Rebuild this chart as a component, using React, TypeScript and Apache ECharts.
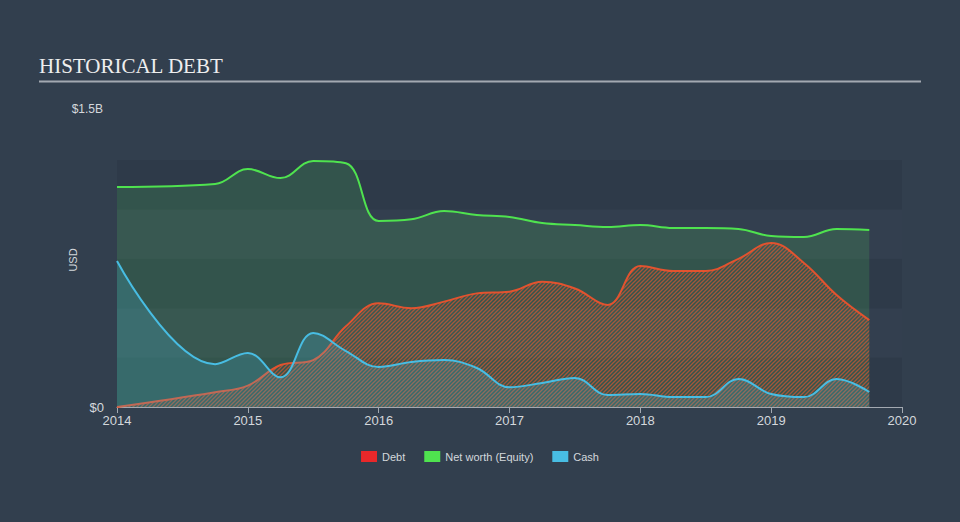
import React, { useEffect, useRef } from "react";
import * as echarts from "echarts";

const quarters = [
  2014, 2014.75, 2015, 2015.25, 2015.5, 2015.75,
  2016, 2016.25, 2016.5, 2016.75, 2017, 2017.25, 2017.5, 2017.75,
  2018, 2018.25, 2018.5, 2018.75, 2019, 2019.25, 2019.5, 2019.75,
];
const debt = [
  0, 0.09, 0.13, 0.255, 0.285, 0.49,
  0.63, 0.6, 0.64, 0.69, 0.7, 0.76, 0.72, 0.62,
  0.857, 0.826, 0.826, 0.9, 0.996, 0.875, 0.68, 0.528,
];
const netWorth = [
  1.336, 1.354, 1.445, 1.39, 1.494, 1.48,
  1.13, 1.14, 1.19, 1.166, 1.154, 1.117, 1.105, 1.093,
  1.105, 1.087, 1.087, 1.081, 1.038, 1.032, 1.081, 1.075,
];
const cash = [
  0.887, 0.26, 0.328, 0.18, 0.45, 0.34,
  0.243, 0.273, 0.285, 0.237, 0.12, 0.146, 0.176, 0.073,
  0.079, 0.06, 0.06, 0.17, 0.079, 0.06, 0.17, 0.091,
];
const xTicks = ["2014", "2015", "2016", "2017", "2018", "2019", "2020"];
const yTopLabel = "$1.5B";
const yBottomLabel = "$0";

const pair = (vals: number[]) => quarters.map((q, i) => [q, vals[i]]);

function makeHatch() {
  const c = document.createElement("canvas");
  const s = 4;
  c.width = s;
  c.height = s;
  const ctx = c.getContext("2d")!;
  ctx.strokeStyle = "rgba(228,88,48,0.9)";
  ctx.lineWidth = 1.3;
  ctx.beginPath();
  ctx.moveTo(0, s);
  ctx.lineTo(s, 0);
  ctx.moveTo(-1, 1);
  ctx.lineTo(1, -1);
  ctx.moveTo(s - 1, s + 1);
  ctx.lineTo(s + 1, s - 1);
  ctx.stroke();
  return c;
}

export default function App() {
  const ref = useRef<HTMLDivElement>(null);
  useEffect(() => {
    document.body.style.margin = "0";
    const chart = echarts.init(ref.current!, undefined, { renderer: "svg" });
    const hatch = makeHatch();
    const sans = "Liberation Sans, Arial, sans-serif";
    const smooth = 0.4;
    chart.setOption({
      animation: false,
      backgroundColor: "#323f4e",
      title: {
        text: "HISTORICAL DEBT",
        left: 39,
        top: 55,
        padding: 0,
        textStyle: {
          fontFamily: "Liberation Serif, Times New Roman, serif",
          fontWeight: "normal",
          fontSize: 21,
          color: "#eeeeee",
        },
      },
      graphic: [
        {
          type: "line",
          shape: { x1: 39, y1: 81.5, x2: 921, y2: 81.5 },
          style: { stroke: "#a3a9b1", lineWidth: 2 },
        },
        {
          type: "text",
          x: 103,
          y: 109,
          style: {
            text: yTopLabel,
            fill: "#d4d8dc",
            font: `12px ${sans}`,
            textAlign: "right",
            textVerticalAlign: "middle",
          },
        },
        {
          type: "text",
          x: 73,
          y: 260,
          rotation: Math.PI / 2,
          style: {
            text: "USD",
            fill: "#d4d8dc",
            font: `11px ${sans}`,
            textAlign: "center",
            textVerticalAlign: "middle",
          },
        },
      ],
      legend: {
        bottom: 55,
        left: "center",
        icon: "rect",
        itemWidth: 16,
        itemHeight: 11,
        itemGap: 19,
        data: ["Debt", "Net worth (Equity)", "Cash"],
        textStyle: { color: "#d4d8dc", fontSize: 11, fontFamily: sans },
      },
      grid: { left: 117, right: 58, top: 160, bottom: 115 },
      xAxis: {
        type: "value",
        min: 2014,
        max: 2020,
        interval: 1,
        axisLine: { lineStyle: { color: "#a3a9b1", width: 1 } },
        axisTick: { show: true, length: 6, lineStyle: { color: "#a3a9b1" } },
        splitLine: { show: false },
        axisLabel: {
          color: "#d4d8dc",
          fontSize: 13,
          fontFamily: sans,
          margin: 7,
          formatter: (v: number) => xTicks[Math.round(v - 2014)] ?? "",
        },
      },
      yAxis: {
        type: "value",
        min: 0,
        max: 1.5,
        interval: 0.3,
        axisLine: { show: false },
        axisTick: { show: false },
        splitLine: { show: false },
        splitArea: { show: true, areaStyle: { color: ["#2e3a49", "#333f4f"] } },
        axisLabel: {
          color: "#d4d8dc",
          fontSize: 13,
          fontFamily: sans,
          margin: 13,
          formatter: (v: number) => (v === 0 ? yBottomLabel : ""),
        },
      },
      series: [
        {
          name: "Net worth (Equity)",
          type: "line",
          data: pair(netWorth),
          smooth,
          showSymbol: false,
          z: 2,
          itemStyle: { color: "#4fe34f" },
          lineStyle: { color: "#4fe34f", width: 2 },
          areaStyle: { color: "rgba(78,210,90,0.25)", origin: "start" },
        },
        {
          name: "Debt",
          type: "line",
          data: pair(debt),
          smooth,
          showSymbol: false,
          z: 3,
          itemStyle: { color: "#e8282a" },
          lineStyle: { color: "#e2532f", width: 2 },
          areaStyle: {
            color: { image: hatch, repeat: "repeat", imageWidth: 4, imageHeight: 4 },
            origin: "start",
          },
        },
        {
          name: "Cash",
          type: "line",
          data: pair(cash),
          smooth,
          showSymbol: false,
          z: 4,
          itemStyle: { color: "#48bde3" },
          lineStyle: { color: "#48bde3", width: 2 },
          areaStyle: { color: "rgba(72,189,227,0.3)", origin: "start" },
        },
      ],
    });
    return () => chart.dispose();
  }, []);
  return <div ref={ref} style={{ width: 960, height: 522 }} />;
}
